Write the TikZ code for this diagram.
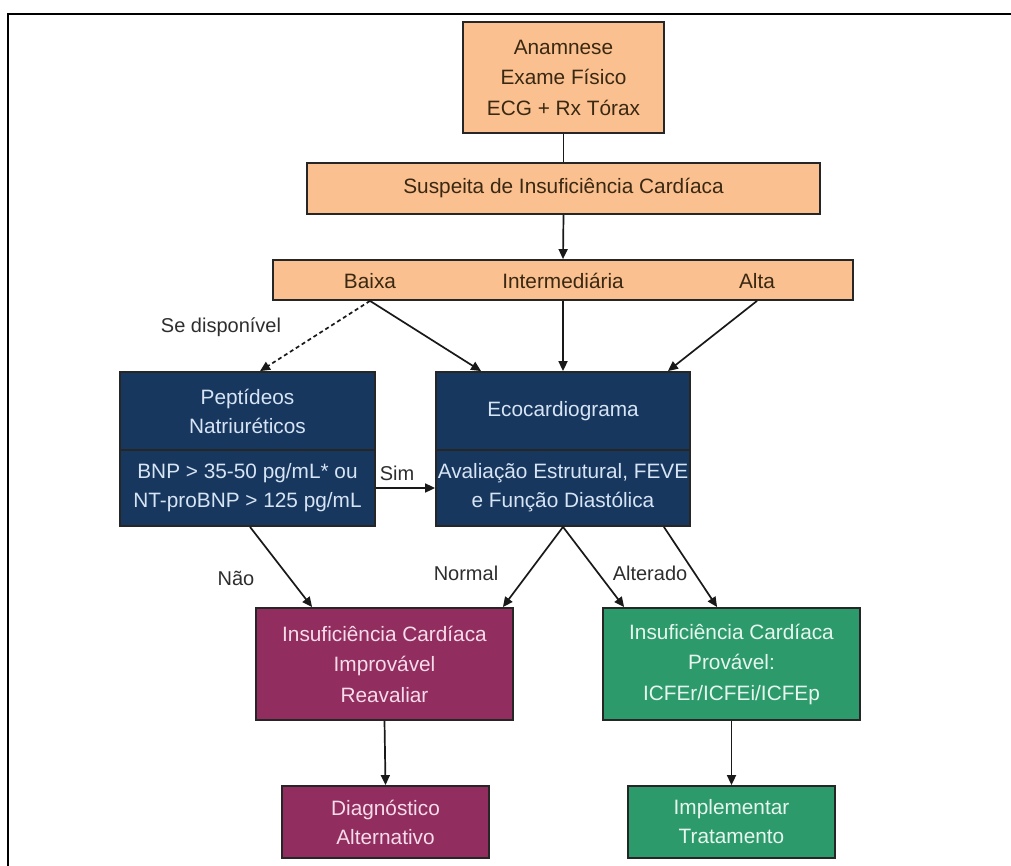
\documentclass[tikz,border=0pt]{standalone}
\usepackage{fontspec}
\setmainfont{Liberation Sans}
\usetikzlibrary{arrows.meta}
\definecolor{peach}{HTML}{FAC090}
\definecolor{peachtxt}{HTML}{3A2812}
\definecolor{navy}{HTML}{17375E}
\definecolor{navytxt}{HTML}{D6E4F4}
\definecolor{plum}{HTML}{922D5F}
\definecolor{plumtxt}{HTML}{F6DCEA}
\definecolor{jade}{HTML}{2D9A6C}
\definecolor{jadetxt}{HTML}{E6F6EE}
\definecolor{lbl}{HTML}{2E2E2E}
\tikzset{
  box/.style={draw=black!85, line width=1.8pt, inner sep=0pt, align=center,
    font=\fontsize{20.8}{29}\selectfont},
  orangebox/.style={box, fill=peach, text=peachtxt},
  navybox/.style={box, fill=navy, text=navytxt},
  plumbox/.style={box, fill=plum, text=plumtxt},
  jadebox/.style={box, fill=jade, text=jadetxt},
  plain/.style={inner sep=0pt, font=\fontsize{20.8}{29}\selectfont},
  lab/.style={inner sep=0pt, text=lbl, font=\fontsize{20}{24}\selectfont},
  conn/.style={line width=1.7pt, draw=black!90},
  arr/.style={conn, -{Triangle[length=10pt,width=9pt]}},
}
\begin{document}
\begin{tikzpicture}[x=1pt,y=-1pt]
\useasboundingbox (0,0) rectangle (1011,866);
\fill[white] (0,0) rectangle (1011,866);
% outer frame (cut at right and bottom)
\draw[line width=2.6pt] (8,875) -- (8,14) -- (1020,14);

% top boxes
\node[orangebox, minimum width=201pt, minimum height=111pt,
  font=\fontsize{20.8}{30.5}\selectfont] (anam) at (563.5,77.5)
  {Anamnese\\Exame Físico\\ECG + Rx Tórax};
\node[orangebox, minimum width=513pt, minimum height=51pt] (susp) at (563.5,188.5)
  {Suspeita de Insuficiência Cardíaca};
\node[orangebox, minimum width=580pt, minimum height=40pt] (bar) at (563,280) {};
\node[plain, text=peachtxt] (baixa) at (370,281) {Baixa};
\node[plain, text=peachtxt] (inter) at (563,281) {Intermediária};
\node[plain, text=peachtxt] (alta) at (757,281) {Alta};

% blue boxes
\node[navybox, minimum width=255pt, minimum height=78pt] (pept) at (247.5,411)
  {Peptídeos\\Natriuréticos};
\node[navybox, minimum width=255pt, minimum height=76pt] (pepb) at (247.5,488)
  {BNP > 35-50 pg/mL* ou\\NT-proBNP > 125 pg/mL};
\node[navybox, minimum width=254pt, minimum height=78pt] (ecot) at (563,411)
  {Ecocardiograma};
\node[navybox, minimum width=254pt, minimum height=76pt] (ecob) at (563,488)
  {Avaliação Estrutural, FEVE\\e Função Diastólica};

% lower boxes
\node[plumbox, minimum width=257pt, minimum height=112pt,
  font=\fontsize{20.8}{30.5}\selectfont] (impr) at (384.5,664)
  {Insuficiência Cardíaca\\Improvável\\Reavaliar};
\node[plumbox, minimum width=207pt, minimum height=72pt] (diag) at (385.5,822)
  {Diagnóstico\\Alternativo};
\node[jadebox, minimum width=257pt, minimum height=112pt,
  font=\fontsize{20.8}{30.5}\selectfont] (prov) at (731.5,664)
  {Insuficiência Cardíaca\\Provável:\\ICFEr/ICFEi/ICFEp};
\node[jadebox, minimum width=207pt, minimum height=72pt] (trat) at (731.5,822)
  {Implementar\\Tratamento};

% labels
\node[lab] (ldisp) at (221,327) {Se disponível};
\node[lab] (lsim) at (397,473) {Sim};
\node[lab] (lnao) at (236,578) {Não};
\node[lab] (lnorm) at (466,573) {Normal};
\node[lab] (lalt) at (650,573) {Alterado};

% connectors
\draw[conn] (anam.south) -- (susp.north);
\draw[arr] (susp.south) -- (bar.north);
\draw[arr, dash pattern=on 4pt off 3pt] (baixa |- bar.south) -- ([xshift=12.5pt]pept.north);
\draw[arr] (baixa |- bar.south) -- ([xshift=46pt]ecot.north west);
\draw[arr] (inter |- bar.south) -- (ecot.north);
\draw[arr] (alta |- bar.south) -- ([xshift=-23pt]ecot.north east);
\draw[arr] (pepb.east) -- (ecob.west);
\draw[arr] ([xshift=2.5pt]pepb.south) -- ([xshift=57pt]impr.north west);
\draw[arr] (ecob.south) -- ([xshift=-11pt]impr.north east);
\draw[arr] (ecob.south) -- ([xshift=22pt]prov.north west);
\draw[arr] ([xshift=-27pt]ecob.south east) -- ([xshift=115pt]prov.north west);
\draw[arr] (impr.south) -- (diag.north);
\draw[arr] (prov.south) -- (trat.north);
\end{tikzpicture}
\end{document}
